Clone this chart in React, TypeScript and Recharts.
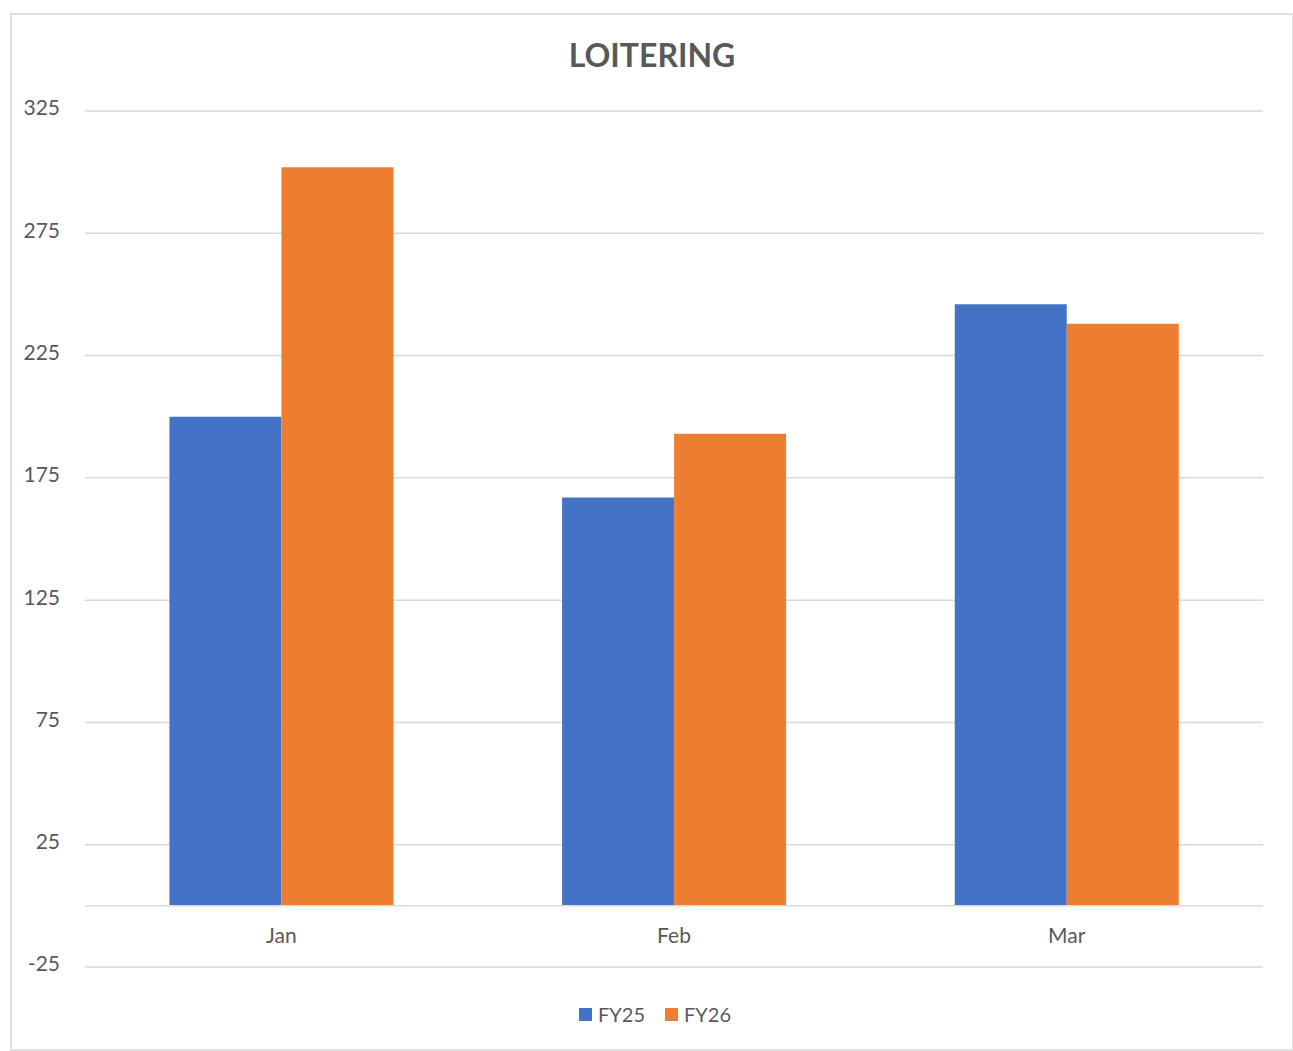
import { BarChart, Bar, XAxis, YAxis, CartesianGrid, Legend, ReferenceLine } from 'recharts';

const MESES = ['Jan', 'Feb', 'Mar'];
const FY25 = [200, 167, 246];
const FY26 = [302, 193, 238];
const TICKS_Y = [-25, 25, 75, 125, 175, 225, 275, 325];

const SERIES = [
    { key: 'FY25', color: '#4472C4' },
    { key: 'FY26', color: '#ED7D31' },
];

const TEXTO = '#595959';
const GRIS = '#d9d9d9';
const FUENTE = 'Lato, "Open Sans", sans-serif';

const data = MESES.map((mes, i) => ({ mes, FY25: FY25[i], FY26: FY26[i] }));

function TickX({ x, y, payload }: any) {
    return (
        <text x={x} y={y - 31} dy="0.355em" textAnchor="middle" fill={TEXTO} fontSize={21} fontFamily={FUENTE}>
            {payload.value}
        </text>
    );
}

function TickY({ x, y, payload }: any) {
    return (
        <text x={x} y={y - 3} dy="0.355em" textAnchor="end" fill={TEXTO} fontSize={21} fontFamily={FUENTE}>
            {payload.value}
        </text>
    );
}

function Leyenda() {
    return (
        <div style={{ display: 'flex', justifyContent: 'center', gap: 20, fontFamily: FUENTE, fontSize: 20, color: TEXTO }}>
            {SERIES.map((s) => (
                <span key={s.key} style={{ display: 'flex', alignItems: 'center', gap: 6 }}>
                    <span style={{ width: 13, height: 13, background: s.color, display: 'inline-block' }} />
                    {s.key}
                </span>
            ))}
        </div>
    );
}

export default function App() {
    return (
        <div style={{ position: 'absolute', left: 10, top: 13, width: 1280, height: 1034, border: `2px solid #e0e0e0`, background: '#fff' }}>
            <div style={{ position: 'absolute', top: 22, left: 0, width: '100%', textAlign: 'center', fontFamily: FUENTE, fontWeight: 700, fontSize: 32, color: TEXTO, lineHeight: '36px' }}>
                LOITERING
            </div>
            <BarChart width={1280} height={1034} data={data} margin={{ top: 96, right: 29, bottom: 52, left: 0 }} barCategoryGap="21.5%" barGap={0}>
                <CartesianGrid vertical={false} stroke={GRIS} strokeWidth={1.5} />
                <XAxis dataKey="mes" axisLine={false} tickLine={false} tickSize={0} tickMargin={0} height={30} tick={<TickX />} />
                <YAxis domain={[-25, 325]} ticks={TICKS_Y} axisLine={false} tickLine={false} tickSize={0} tickMargin={25} width={73} tick={<TickY />} />
                <ReferenceLine y={0} stroke={GRIS} strokeWidth={1.5} />
                <Legend verticalAlign="middle" align="center" content={<Leyenda />} wrapperStyle={{ top: 987, left: 3, width: 1280 }} />
                {SERIES.map((s) => (
                    <Bar key={s.key} dataKey={s.key} fill={s.color} isAnimationActive={false} />
                ))}
            </BarChart>
        </div>
    );
}
